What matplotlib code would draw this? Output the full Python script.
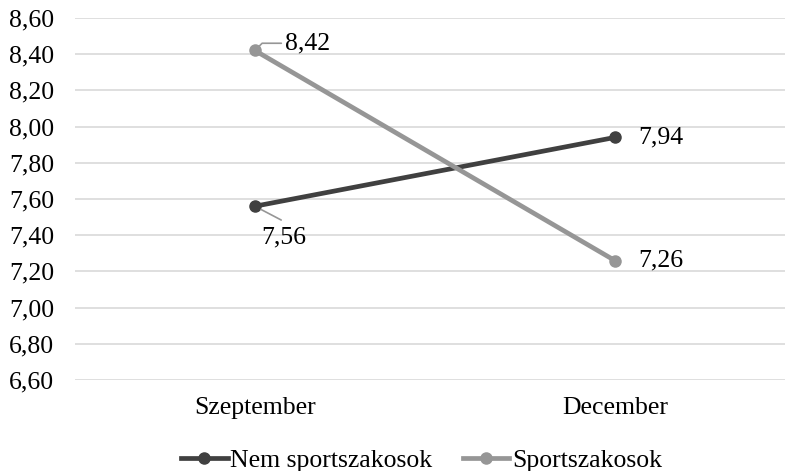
import matplotlib.pyplot as plt
from matplotlib.ticker import FuncFormatter
import numpy as np

categories = ['Szeptember', 'December']
nem_sport = [7.56, 7.94]
sport = [8.42, 7.26]
yticks = [6.6, 6.8, 7.0, 7.2, 7.4, 7.6, 7.8, 8.0, 8.2, 8.4, 8.6]

plt.rcParams['font.family'] = ['Liberation Serif', 'DejaVu Serif']
fs = 18.5

dark = '#404040'
light = '#969696'

fig = plt.figure(figsize=(7.88, 4.71), dpi=100)
ax = fig.add_axes([0.095, 0.193, 0.901, 0.769])

x = np.arange(len(categories))
ax.plot(x, nem_sport, color=dark, lw=3.4, marker='o', ms=8, label='Nem sportszakosok', zorder=3)
ax.plot(x, sport, color=light, lw=3.4, marker='o', ms=8, label='Sportszakosok', zorder=3)

ax.set_xlim(-0.5, 1.472)
ax.set_ylim(6.6, 8.6)
ax.set_yticks(yticks)
ax.yaxis.set_major_formatter(FuncFormatter(lambda v, p: f'{v:.2f}'.replace('.', ',')))
ax.set_xticks(x)
ax.set_xticklabels(categories)
ax.tick_params(length=0, labelsize=fs)
ax.tick_params(axis='x', pad=12)
ax.tick_params(axis='y', pad=15)
ax.grid(axis='y', color='#d9d9d9', lw=1.2)
ax.set_axisbelow(True)
for s in ax.spines.values():
    s.set_visible(False)

def fmt(v):
    return f'{v:.2f}'.replace('.', ',')

# data labels
ax.annotate(fmt(sport[0]), xy=(x[0], sport[0]), xytext=(x[0] + 0.085, 8.46),
            va='center', ha='left', fontsize=fs,
            arrowprops=dict(arrowstyle='-', color=light, lw=1.2,
                            connectionstyle='angle,angleA=0,angleB=45,rad=0', shrinkA=1, shrinkB=3))
ax.annotate(fmt(nem_sport[0]), xy=(x[0], nem_sport[0]), xytext=(x[0] + 0.08, 7.39),
            va='center', ha='center', fontsize=fs,
            arrowprops=dict(arrowstyle='-', color=light, lw=1.2, relpos=(0.7, 1.0),
                            shrinkA=5, shrinkB=5))
ax.annotate(fmt(nem_sport[1]), xy=(x[1], nem_sport[1]), xytext=(17, 0),
            textcoords='offset points', va='center', ha='left', fontsize=fs)
ax.annotate(fmt(sport[1]), xy=(x[1], sport[1]), xytext=(17, 0),
            textcoords='offset points', va='center', ha='left', fontsize=fs)

fig.legend(loc='lower center', bbox_to_anchor=(0.535, -0.052), ncol=2, frameon=False,
           fontsize=fs, handlelength=1.8, columnspacing=1.2, handletextpad=0.1)

fig.savefig('out.png', dpi=100)
